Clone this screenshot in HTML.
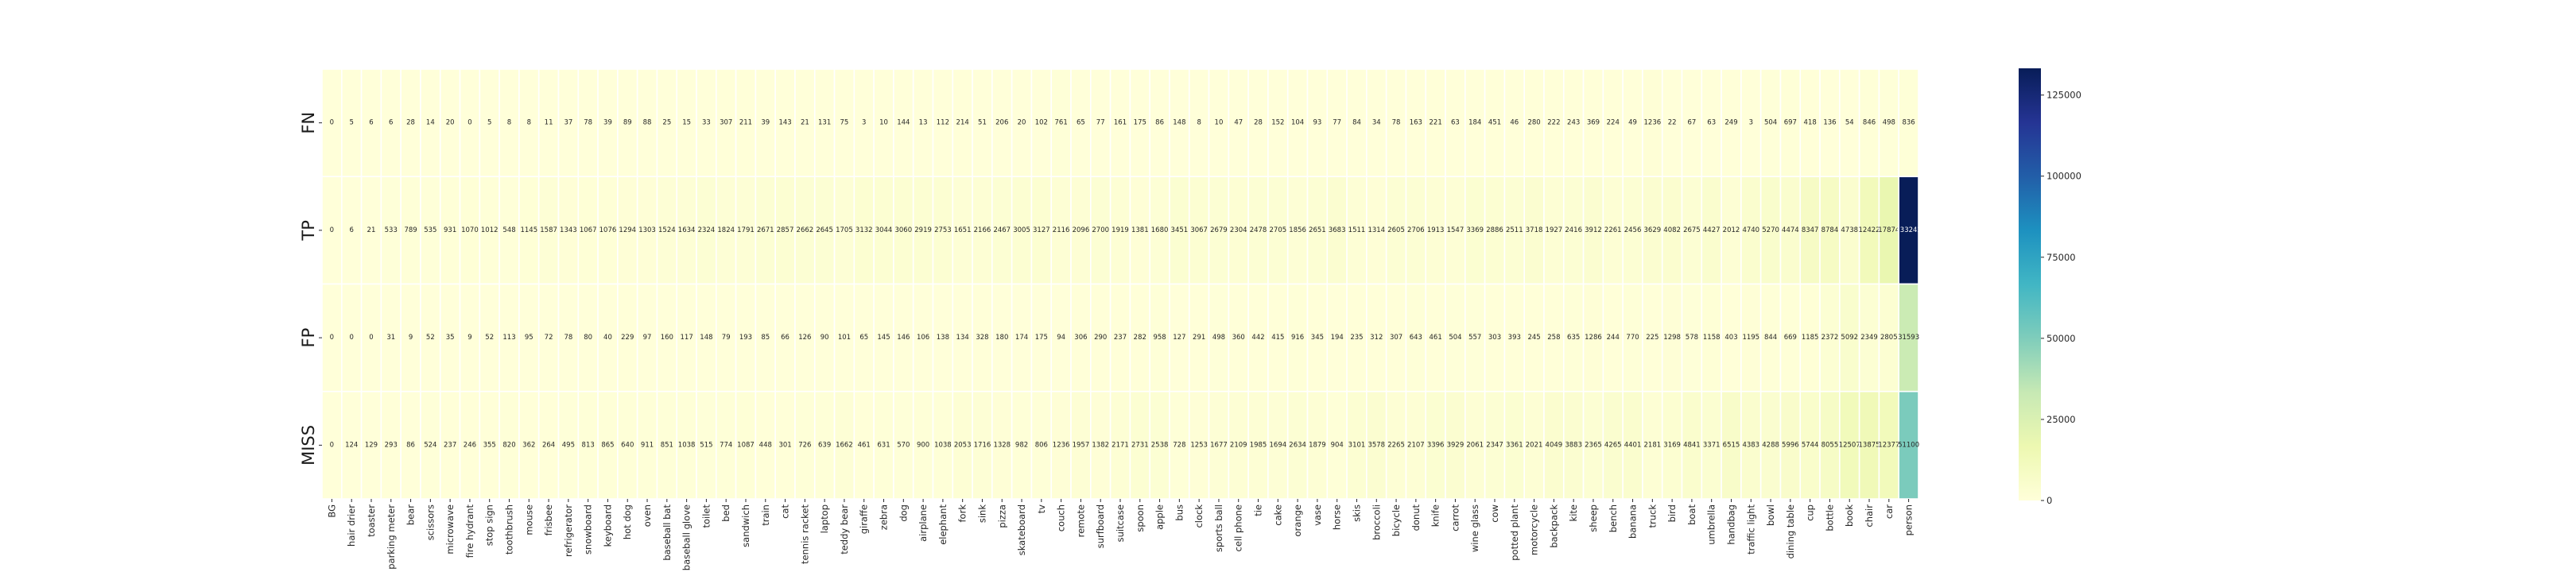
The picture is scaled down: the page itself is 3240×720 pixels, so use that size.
<!DOCTYPE html>
<html><head><meta charset="utf-8"><style>
html,body{margin:0;padding:0;background:#fff;}
svg{display:block;font-family:"DejaVu Sans","Liberation Sans",sans-serif;}
</style></head><body>
<svg id="chart" width="3240" height="720" viewBox="0 0 3240 720" xmlns="http://www.w3.org/2000/svg">
<defs><linearGradient id="cbgrad" x1="0" y1="1" x2="0" y2="0"></linearGradient></defs>
<g id="cells"></g>
<g id="xlabels"></g>
<g id="ylabels"></g>
<g id="cbar"></g>
</svg>
<script>
const categories = ["BG","hair drier","toaster","parking meter","bear","scissors","microwave","fire hydrant","stop sign","toothbrush","mouse","frisbee","refrigerator","snowboard","keyboard","hot dog","oven","baseball bat","baseball glove","toilet","bed","sandwich","train","cat","tennis racket","laptop","teddy bear",
"giraffe","zebra","dog","airplane","elephant","fork","sink","pizza","skateboard","tv","couch","remote","surfboard","suitcase","spoon","apple","bus","clock","sports ball","cell phone","tie","cake","orange","vase","horse","skis","broccoli",
"bicycle","donut","knife","carrot","wine glass","cow","potted plant","motorcycle","backpack","kite","sheep","bench","banana","truck","bird","boat","umbrella","handbag","traffic light","bowl","dining table","cup","bottle","book","chair","car","person"];
const rowLabels = ["FN","TP","FP","MISS"];
const fnValues = [0,5,6,6,28,14,20,0,5,8,8,11,37,78,39,89,88,25,15,33,307,211,39,143,21,131,75,
3,10,144,13,112,214,51,206,20,102,761,65,77,161,175,86,148,8,10,47,28,152,104,93,77,84,34,
78,163,221,63,184,451,46,280,222,243,369,224,49,1236,22,67,63,249,3,504,697,418,136,54,846,498,836];
const tpValues = [0,6,21,533,789,535,931,1070,1012,548,1145,1587,1343,1067,1076,1294,1303,1524,1634,2324,1824,1791,2671,2857,2662,2645,1705,
3132,3044,3060,2919,2753,1651,2166,2467,3005,3127,2116,2096,2700,1919,1381,1680,3451,3067,2679,2304,2478,2705,1856,2651,3683,1511,1314,
2605,2706,1913,1547,3369,2886,2511,3718,1927,2416,3912,2261,2456,3629,4082,2675,4427,2012,4740,5270,4474,8347,8784,4738,12422,17874,133242];
const fpValues = [0,0,0,31,9,52,35,9,52,113,95,72,78,80,40,229,97,160,117,148,79,193,85,66,126,90,101,
65,145,146,106,138,134,328,180,174,175,94,306,290,237,282,958,127,291,498,360,442,415,916,345,194,235,312,
307,643,461,504,557,303,393,245,258,635,1286,244,770,225,1298,578,1158,403,1195,844,669,1185,2372,5092,2349,2805,31593];
const missValues = [0,124,129,293,86,524,237,246,355,820,362,264,495,813,865,640,911,851,1038,515,774,1087,448,301,726,639,1662,
461,631,570,900,1038,2053,1716,1328,982,806,1236,1957,1382,2171,2731,2538,728,1253,1677,2109,1985,1694,2634,1879,904,3101,3578,
2265,2107,3396,3929,2061,2347,3361,2021,4049,3883,2365,4265,4401,2181,3169,4841,3371,6515,4383,4288,5996,5744,8055,12507,13875,12377,51100];
const cbarTicks = [0,25000,50000,75000,100000,125000];
const vmin = 0, vmax = 133242;

const NS="http://www.w3.org/2000/svg";
const X0=405, X1=2413, Y0=87, Y1=628;
const seriesRows=[fnValues,tpValues,fpValues,missValues];
const colW=(X1-X0)/categories.length, rowH=(Y1-Y0)/rowLabels.length;
const xPos=i=>X0+i*colW, yPos=j=>Y0+j*rowH;
const stops=["#ffffd9","#edf8b1","#c7e9b4","#7fcdbb","#41b6c4","#1d91c0","#225ea8","#253494","#081d58"];
function hex(h){return [1,3,5].map(k=>parseInt(h.substr(k,2),16));}
function cmap(v){let t=Math.max(0,Math.min(1,(v-vmin)/(vmax-vmin)))*(stops.length-1);let i=Math.min(Math.floor(t),stops.length-2),f=t-i;const a=hex(stops[i]),b=hex(stops[i+1]);const c=a.map((x,k)=>Math.round(x+(b[k]-x)*f));return {css:`rgb(${c[0]},${c[1]},${c[2]})`,lum:(0.299*c[0]+0.587*c[1]+0.114*c[2])};}
function mk(tag,attrs,parent){const e=document.createElementNS(NS,tag);for(const k in attrs)e.setAttribute(k,attrs[k]);parent.appendChild(e);return e;}

const cells=document.getElementById('cells');
seriesRows.forEach((vals,j)=>{
  vals.forEach((v,i)=>{
    const c=cmap(v);
    const r=mk('rect',{x:xPos(i),y:yPos(j),width:colW,height:rowH,fill:c.css,stroke:'#ffffff','stroke-width':1.6},cells);
    
    
    const t=mk('text',{x:xPos(i)+colW/2,y:yPos(j)+rowH/2,'text-anchor':'middle','dominant-baseline':'central','font-size':8.5,fill:c.lum<128?'#ffffff':'#262626'},cells);
    t.textContent=v;
    
    
  });
});
const xl=document.getElementById('xlabels');
categories.forEach((c,i)=>{
  const cx=xPos(i)+colW/2;
  const tk=mk('line',{x1:cx,y1:Y1,x2:cx,y2:Y1+4,stroke:'#262626','stroke-width':1},xl);
  
  
  const t=mk('text',{x:cx,y:Y1+7,'text-anchor':'end','dominant-baseline':'central','font-size':11.5,fill:'#262626',transform:`rotate(-90 ${cx} ${Y1+7})`},xl);
  t.textContent=c;
  
  
});
const yl=document.getElementById('ylabels');
rowLabels.forEach((r,j)=>{
  const cy=yPos(j)+rowH/2;
  const tk=mk('line',{x1:X0-4,y1:cy,x2:X0,y2:cy,stroke:'#262626','stroke-width':1},yl);
  
  
  const t=mk('text',{x:388,y:cy,'text-anchor':'middle','dominant-baseline':'central','font-size':21,fill:'#1a1a1a',transform:`rotate(-90 388 ${cy})`},yl);
  t.textContent=r;
  
  
});
const grad=document.getElementById('cbgrad');
stops.forEach((s,k)=>mk('stop',{offset:(k/(stops.length-1)),'stop-color':s},grad));
const cb=document.getElementById('cbar');
const CBX=2539, CBW=28, CBT=86, CBB=630;
const cy=v=>CBB-(v-vmin)/(vmax-vmin)*(CBB-CBT);
const cbr=mk('rect',{x:CBX,y:CBT,width:CBW,height:CBB-CBT,fill:'url(#cbgrad)'},cb);


cbarTicks.forEach(v=>{
  const y=cy(v);
  const tk=mk('line',{x1:CBX+CBW,y1:y,x2:CBX+CBW+4,y2:y,stroke:'#262626','stroke-width':1},cb);
  
  
  const t=mk('text',{x:CBX+CBW+7,y:y,'dominant-baseline':'central','font-size':11.5,fill:'#262626'},cb);
  t.textContent=v;
  
  
});
</script>
</body></html>
